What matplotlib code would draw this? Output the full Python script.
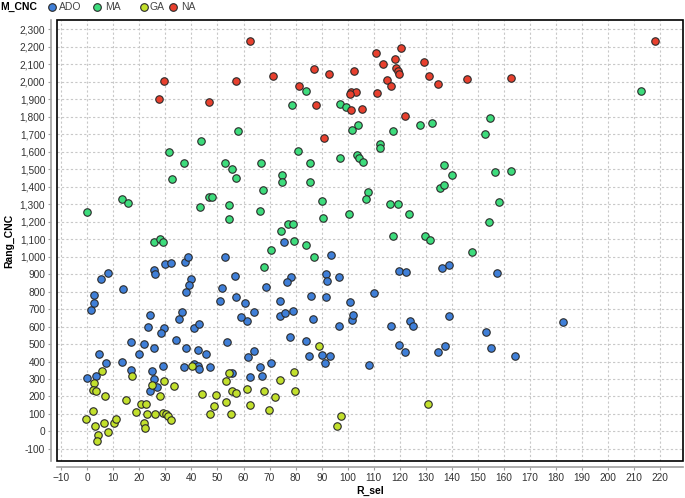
import matplotlib
matplotlib.use("Agg")
import matplotlib.pyplot as plt
from matplotlib.patches import Rectangle
from matplotlib.ticker import FuncFormatter

plt.rcParams['font.family'] = ['Liberation Sans', 'DejaVu Sans']

categories = ["ADO", "MA", "GA", "NA"]
colors = {"ADO": "#3f7fd8", "MA": "#3ddc7c", "GA": "#c2e02c", "NA": "#e8402e"}

ado_x = [1.5, 2.5, 2.5, 5.2, 7.8, 13.7, 25.5, 25.9, 30.0, 32.3, 37.7, 38.7, 40.0, 39.0, 37.8, 36.2, 35.1, 24.0, 52.9, 51.9, 50.9,
         23.5, 29.5, 28.5, 41.0, 42.8, 16.7, 21.8, 25.5, 34.2, 38.1, 42.4, 45.5, 53.7, 4.4, 19.7, 7.1, 13.4, 0.1, 3.5, 16.8, 24.8,
         29.1, 37.2, 40.8, 42.4, 42.9, 47.0, 25.5, 26.6, 24.1,
         61.3, 77.7, 84.0, 64.0, 61.6, 85.0, 90.1, 93.1, 91.3, 70.6, 66.3, 55.5, 62.4, 67.1, 108.3, 119.5, 122.1, 134.7, 137.2,
         96.7, 101.5, 116.5, 123.9, 125.2, 86.7,
         182.5, 152.9, 154.9, 164.2,
         75.4, 93.7, 56.9, 78.2, 76.7, 91.6, 92.2, 96.7, 119.6, 122.4, 136.1, 138.7, 68.5, 57.3, 60.5, 73.9, 85.9, 91.6, 110.2,
         100.9, 64.0, 59.2, 73.9, 76.1, 78.9, 102.2, 138.7, 157.2]
ado_y = [696, 732, 778, 873, 906, 816, 925, 900, 955, 963, 970, 997, 873, 835, 799, 685, 641, 667, 997, 822, 746,
         597, 591, 563, 591, 614, 509, 502, 477, 525, 477, 467, 443, 509, 445, 443, 391, 397, 303, 315, 349, 347,
         376, 368, 386, 376, 357, 368, 300, 254, 233,
         629, 538, 515, 462, 423, 429, 439, 429, 391, 391, 368, 334, 311, 315, 382, 492, 456, 456, 490,
         605, 636, 603, 629, 603, 642,
         624, 570, 479, 433,
         1085, 1009, 890, 886, 852, 902, 863, 881, 917, 911, 934, 953, 826, 769, 732, 746, 774, 769, 789,
         738, 683, 656, 662, 677, 686, 666, 662, 906]

ma_x = [43.6, 31.5, 37.0, 52.9, 55.6, 32.4, -0.2, 13.5, 15.8, 43.2, 46.6, 47.8, 54.4, 54.4, 25.5, 28.0, 29.2,
        84.0, 78.5, 96.9, 99.5, 127.9, 132.5, 58.0, 104.0, 101.8, 117.5, 81.1, 96.9, 103.7, 104.3, 106.0, 112.3, 112.5,
        66.7, 85.5, 137.1, 57.1, 74.9,
        212.4, 154.6, 152.6, 140.2, 156.7, 162.5,
        74.9, 85.4, 67.3, 107.9, 107.0, 66.2, 90.3, 116.2, 119.2, 123.5, 135.3, 136.9, 100.3, 90.5, 74.3, 77.2, 79.0,
        79.4, 84.0, 70.7, 87.2, 117.5, 129.8, 131.7, 67.8,
        158.0, 154.2, 147.6]
ma_y = [1660, 1600, 1537, 1534, 1500, 1443, 1256, 1332, 1309, 1286, 1338, 1342, 1296, 1216, 1081, 1100, 1081,
        1949, 1867, 1871, 1856, 1755, 1765, 1717, 1755, 1725, 1717, 1605, 1565, 1583, 1565, 1543, 1645, 1620,
        1534, 1534, 1525, 1452, 1466,
        1947, 1791, 1700, 1469, 1486, 1492,
        1429, 1426, 1382, 1372, 1329, 1263, 1319, 1302, 1298, 1246, 1395, 1412, 1246, 1223, 1147, 1186, 1186,
        1089, 1069, 1039, 997, 1115, 1117, 1096, 938,
        1311, 1197, 1026]

ga_x = [5.5, 17.3, 2.6, 2.2, 3.3, 6.8, 15.0, 2.1, -0.5, 3.0, 6.3, 10.3, 11.2, 4.1, 3.6, 8.1, 18.9, 20.8, 22.7, 23.1,
        21.7, 22.1, 25.0, 27.8, 29.5, 33.2, 26.2, 29.1, 30.4, 31.0, 32.3, 40.4, 44.2, 49.3, 48.7, 47.0, 53.4, 53.4,
        54.4, 55.2,
        89.0, 79.3, 73.9, 55.7, 57.3, 61.5, 68.0, 79.9, 72.2, 62.4, 69.6, 97.3, 95.7, 130.7]
ga_y = [344, 315, 277, 239, 229, 205, 182, 119, 69, 33, 48, 48, 71, -22, -57, -5, 109, 159, 155, 102,
        48, 20, 267, 201, 290, 258, 98, 105, 100, 86, 67, 372, 216, 209, 143, 98, 286, 166,
        334, 98,
        489, 338, 296, 229, 220, 245, 233, 229, 197, 151, 125, 89, 33, 159]

na_x = [29.4, 27.6, 46.9, 62.4, 57.3, 71.3, 86.9, 92.7, 102.4, 111.0, 120.6, 113.6, 118.3, 118.7, 119.3, 119.5, 115.0,
        116.6, 129.3, 131.2, 134.6, 81.3, 87.7, 101.2, 103.2, 101.0, 111.2, 101.4, 105.4, 122.0, 90.9, 145.9, 162.7, 218.1]
na_y = [2003, 1904, 1885, 2231, 2006, 2033, 2071, 2043, 2062, 2166, 2193, 2100, 2129, 2081, 2063, 2045, 2009,
        1974, 2111, 2035, 1987, 1978, 1867, 1940, 1943, 1929, 1936, 1839, 1843, 1803, 1677, 2014, 2023, 2235]

series = {"ADO": (ado_x, ado_y), "MA": (ma_x, ma_y), "GA": (ga_x, ga_y), "NA": (na_x, na_y)}

x_ticks = list(range(-10, 221, 10))
y_ticks = list(range(-100, 2301, 100))

fig = plt.figure(figsize=(6.85, 4.98), dpi=100)
ax = fig.add_axes([57/685, 1 - 461/498, (683 - 57)/685, (461 - 20)/498])

for cat in categories:
    xs, ys = series[cat]
    ax.scatter(xs, ys, s=29, c=colors[cat], edgecolors="#2a2a2a", linewidths=0.8, zorder=3)

ax.set_xlim(-11.6, 228.7)
ax.set_ylim(-169, 2353)
ax.set_xticks(x_ticks)
ax.set_yticks(y_ticks)
ax.yaxis.set_major_formatter(FuncFormatter(lambda v, p: f"{int(v):,}"))
ax.grid(True, color="#c8c8c8", linestyle=(0, (2, 2)), linewidth=0.8, zorder=0)

for s in ["top", "right"]:
    ax.spines[s].set_visible(False)
for s in ["left", "bottom"]:
    ax.spines[s].set_position(("outward", 4))
    ax.spines[s].set_color("#a0a0a0")
    ax.spines[s].set_linewidth(1.2)
ax.add_patch(Rectangle((0, 0), 1, 1, transform=ax.transAxes, fill=False,
                       edgecolor="black", linewidth=1.2, clip_on=False, zorder=5))
ax.tick_params(axis="both", colors="#a0a0a0", length=2.5, width=0.8, labelsize=7.3,
               labelcolor="#333333", pad=2)

ax.set_xlabel("R_sel", fontsize=7.5, fontweight="bold", labelpad=2)
ax.set_ylabel("Rang_CNC", fontsize=7.5, fontweight="bold", labelpad=4)

# legend row
fig.text(0.0, 1 - 7/498, "M_CNC", fontsize=7.5, fontweight="bold", va="center", ha="left")
leg_pos = [(52, 59, "ADO"), (97, 105, "MA"), (144, 150, "GA"), (173, 181, "NA")]
for mx, tx, cat in leg_pos:
    fig.add_artist(plt.Line2D([mx/685], [1 - 7/498], marker="o", markersize=5.5,
                              markerfacecolor=colors[cat], markeredgecolor="#2a2a2a",
                              markeredgewidth=0.8, linestyle="none", transform=fig.transFigure))
    fig.text(tx/685, 1 - 7/498, cat, fontsize=7.5, color="#444444", va="center", ha="left")

fig.savefig("out.png", dpi=100)
